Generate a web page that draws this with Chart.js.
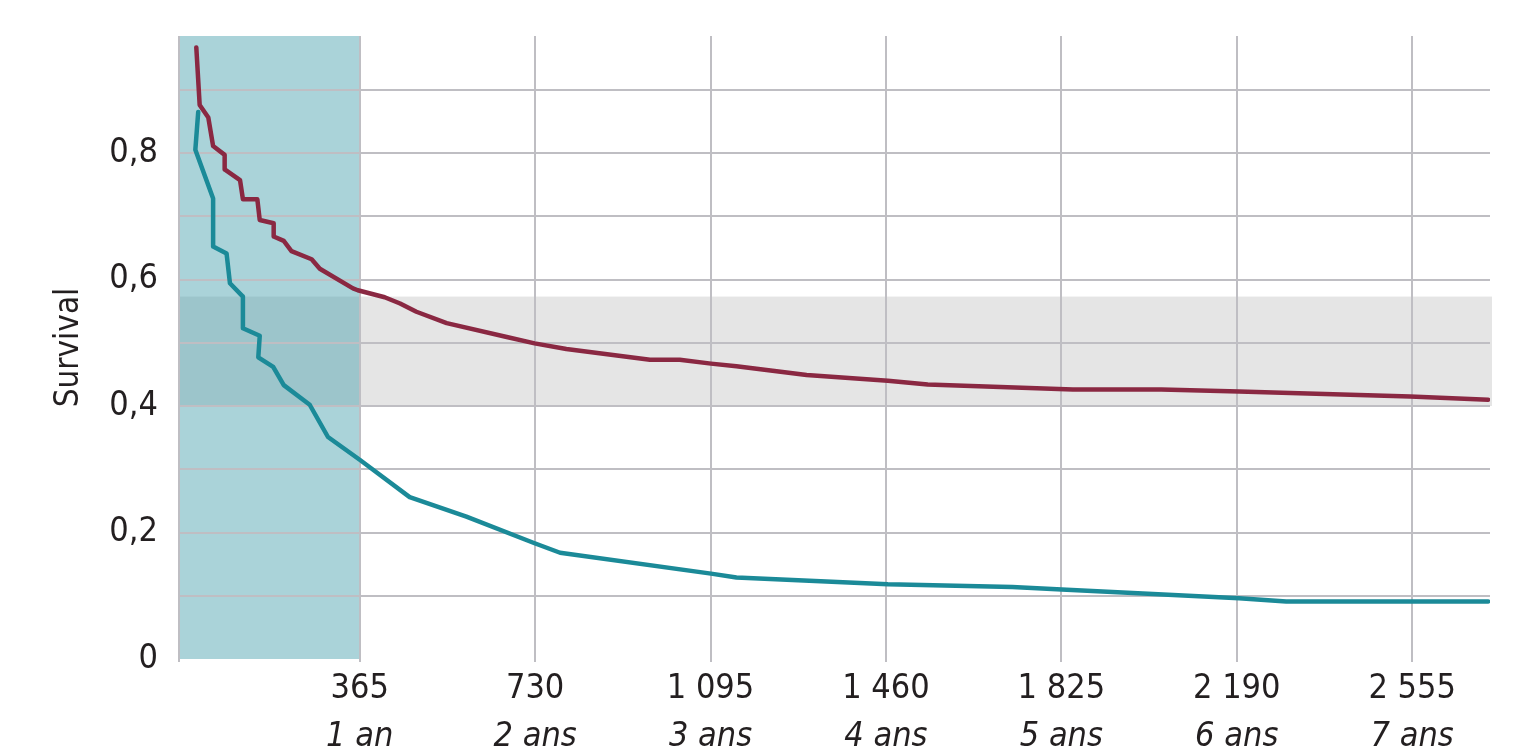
<!DOCTYPE html>
<html>
<head>
<meta charset="utf-8">
<script src="https://cdn.jsdelivr.net/npm/chart.js@4/dist/chart.umd.min.js"></script>
<style>
  html, body { margin: 0; padding: 0; background: #ffffff; }
  #wrap { width: 1536px; height: 750px; }
</style>
</head>
<body>
<div id="wrap"><canvas id="c" width="1536" height="750"></canvas></div>
<script>
// ---- data ----
const redDays = [25, 32, 50, 60, 84, 84, 116, 122, 152, 157, 186, 186, 207, 223, 265, 282, 351, 361, 417, 449, 483, 546, 671, 729, 795, 969, 1031, 1096, 1149, 1295, 1464, 1547, 1849, 2033, 2195, 2551, 2713];
const redSurvival = [0.967, 0.876, 0.856, 0.811, 0.797, 0.774, 0.757, 0.727, 0.727, 0.694, 0.689, 0.668, 0.661, 0.645, 0.632, 0.617, 0.586, 0.583, 0.572, 0.562, 0.549, 0.531, 0.509, 0.499, 0.490, 0.473, 0.473, 0.467, 0.463, 0.449, 0.440, 0.434, 0.426, 0.426, 0.423, 0.415, 0.410];

const tealDays = [29, 23, 60, 60, 88, 95, 122, 122, 157, 154, 185, 207, 261, 299, 365, 469, 587, 729, 782, 1096, 1149, 1464, 1723, 1826, 2195, 2293, 2713];
const tealSurvival = [0.865, 0.805, 0.728, 0.652, 0.641, 0.594, 0.573, 0.523, 0.511, 0.477, 0.462, 0.433, 0.402, 0.351, 0.315, 0.256, 0.225, 0.183, 0.168, 0.135, 0.129, 0.118, 0.114, 0.110, 0.096, 0.091, 0.091];

const xTickValues = [365, 730, 1095, 1460, 1825, 2190, 2555];
const xTickLabels = ['365', '730', '1 095', '1 460', '1 825', '2 190', '2 555'];
const yearLabels = ['1 an', '2 ans', '3 ans', '4 ans', '5 ans', '6 ans', '7 ans'];

const yGridValues = [0, 0.1, 0.2, 0.3, 0.4, 0.5, 0.6, 0.7, 0.8, 0.9];
const yTickValues = [0, 0.2, 0.4, 0.6, 0.8];
const yTickLabels = ['0', '0,2', '0,4', '0,6', '0,8'];

const yAxisTitle = 'Survival';

// highlighted ranges
const firstYearBand = [-11, 365];     // x range (days)
const survivalBand = [0.4, 0.573];    // y range

const xMin = -11, xMax = 2717;
const yMin = 0, yMax = 0.985;

// ---- styles ----
const FONT = '"Liberation Sans Narrow", "DejaVu Sans Condensed", "Liberation Sans", sans-serif';
const GRID = '#bfbec3';
const TEXT = '#231f20';

const toPoints = (xs, ys) => xs.map((x, i) => ({ x: x, y: ys[i] }));

const bandsPlugin = {
  id: 'bands',
  beforeDraw(chart) {
    const { ctx, chartArea, scales } = chart;
    const x = scales.x, y = scales.y;
    ctx.save();
    const gy1 = y.getPixelForValue(survivalBand[1]);
    const gy0 = y.getPixelForValue(survivalBand[0]);
    ctx.fillStyle = '#e5e5e5';
    ctx.fillRect(chartArea.left, gy1, chartArea.right - chartArea.left + 2, gy0 - gy1);
    const bx0 = x.getPixelForValue(firstYearBand[0]);
    const bx1 = x.getPixelForValue(firstYearBand[1]);
    ctx.fillStyle = 'rgba(70,159,172,0.46)';
    ctx.fillRect(bx0, chartArea.top, bx1 - bx0, chartArea.bottom - chartArea.top);
    ctx.restore();
  }
};

new Chart(document.getElementById('c'), {
  type: 'line',
  data: {
    datasets: [
      {
        label: 'A',
        data: toPoints(redDays, redSurvival),
        borderColor: '#8a2842',
        borderWidth: 4.5,
        pointRadius: 0,
        tension: 0,
        fill: false,
        borderCapStyle: 'round',
        borderJoinStyle: 'round'
      },
      {
        label: 'B',
        data: toPoints(tealDays, tealSurvival),
        borderColor: '#1b8a98',
        borderWidth: 4.5,
        pointRadius: 0,
        tension: 0,
        fill: false,
        borderCapStyle: 'round',
        borderJoinStyle: 'round'
      }
    ]
  },
  options: {
    responsive: false,
    animation: false,
    layout: { padding: { top: 36, right: 46, left: 0, bottom: 0 } },
    plugins: { legend: { display: false }, tooltip: { enabled: false } },
    scales: {
      x: {
        type: 'linear',
        position: 'bottom',
        min: xMin,
        max: xMax,
        afterBuildTicks: (s) => { s.ticks = [{ value: xMin }].concat(xTickValues.map(v => ({ value: v }))); },
        afterFit: (s) => { s.height = 50; s.paddingLeft = 0; s.paddingRight = 0; },
        border: { display: false },
        grid: { color: GRID, lineWidth: 2, drawTicks: true, tickLength: 3 },
        ticks: {
          autoSkip: false,
          maxRotation: 0,
          padding: 7,
          color: TEXT,
          font: { family: FONT, size: 34 },
          callback: (v) => { const i = xTickValues.indexOf(v); return i >= 0 ? xTickLabels[i] : ''; }
        }
      },
      x2: {
        type: 'linear',
        position: 'bottom',
        min: xMin,
        max: xMax,
        afterBuildTicks: (s) => { s.ticks = xTickValues.map(v => ({ value: v })); },
        afterFit: (s) => { s.height = 41; s.paddingLeft = 0; s.paddingRight = 0; },
        border: { display: false },
        grid: { display: false, drawTicks: false },
        ticks: {
          autoSkip: false,
          maxRotation: 0,
          padding: 8,
          color: TEXT,
          font: { family: FONT, size: 34, style: 'italic' },
          callback: (v) => { const i = xTickValues.indexOf(v); return i >= 0 ? yearLabels[i] : ''; }
        }
      },
      y: {
        type: 'linear',
        position: 'left',
        min: yMin,
        max: yMax,
        afterBuildTicks: (s) => { s.ticks = yGridValues.map(v => ({ value: v })); },
        afterFit: (s) => { s.width = 179; s.paddingTop = 0; s.paddingBottom = 0; },
        border: { display: false },
        grid: {
          lineWidth: 2,
          drawTicks: false,
          color: (ctx) => (ctx.tick && Math.abs(ctx.tick.value) < 1e-9) ? 'rgba(0,0,0,0)' : GRID
        },
        title: {
          display: true,
          text: yAxisTitle,
          color: TEXT,
          font: { family: FONT, size: 33 },
          padding: { top: 50, bottom: 0 }
        },
        ticks: {
          autoSkip: false,
          padding: 21,
          color: TEXT,
          font: { family: FONT, size: 34 },
          callback: (v) => {
            const i = yTickValues.findIndex(t => Math.abs(t - v) < 1e-9);
            return i >= 0 ? yTickLabels[i] : '';
          }
        }
      }
    }
  },
  plugins: [bandsPlugin]
});
</script>
</body>
</html>
